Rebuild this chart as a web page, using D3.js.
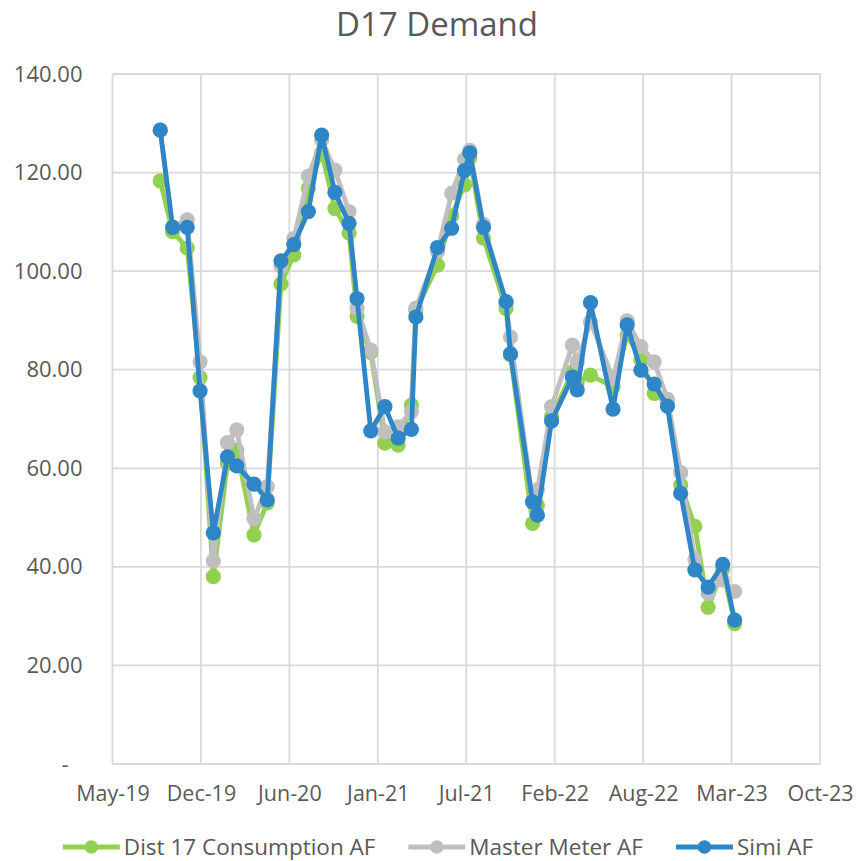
<!DOCTYPE html>
<html>
<head>
<meta charset="utf-8">
<script src="https://cdn.jsdelivr.net/npm/d3@7"></script>
<style>
  html, body { margin: 0; padding: 0; background: #ffffff; }
  svg { display: block; }
  text { font-family: "Open Sans", "Noto Sans", sans-serif; fill: #595959; }
</style>
</head>
<body>
<svg id="chart" width="862" height="861"></svg>
<script>
// ---------------- DATA ----------------
const dates = [
  "2019-08-31","2019-09-28","2019-10-31","2019-11-29","2019-12-29",
  "2020-01-30","2020-02-20","2020-03-30","2020-04-29","2020-05-30",
  "2020-06-28","2020-07-31","2020-08-30","2020-09-29","2020-10-31",
  "2020-11-18","2020-12-19","2021-01-20","2021-02-19","2021-03-21",
  "2021-03-31","2021-05-19","2021-06-20","2021-07-19","2021-07-31",
  "2021-08-31","2021-10-21","2021-10-31","2021-12-20","2021-12-31",
  "2022-02-01","2022-03-20","2022-03-31","2022-04-30","2022-06-20",
  "2022-07-22","2022-08-22","2022-09-21","2022-10-21","2022-11-20",
  "2022-12-22","2023-01-21","2023-02-23","2023-03-22"
];
const dist17 = [118.3,108.0,104.7,78.4,38.0,61.0,63.7,46.5,53.0,97.4,
  103.3,116.8,124.0,112.7,107.7,90.8,83.5,65.1,64.7,72.8,
  92.0,101.2,111.2,117.5,123.0,106.7,92.4,83.0,48.8,52.5,
  70.5,79.5,77.5,78.9,76.5,87.0,82.0,75.2,73.0,56.6,
  48.2,31.8,39.5,28.5];
const masterMeter = [128.6,109.0,110.4,81.6,41.2,65.2,67.8,49.8,56.3,101.0,
  106.6,119.3,126.6,120.5,112.1,92.5,84.0,67.4,68.4,71.5,
  92.5,104.0,115.8,122.7,124.5,109.5,93.5,86.6,53.5,55.6,
  72.5,85.0,81.6,89.7,78.2,89.9,84.7,81.6,74.0,59.1,
  41.5,34.6,37.3,35.0];
const simi = [128.6,108.9,108.9,75.7,46.9,62.3,60.5,56.8,53.6,102.1,
  105.4,112.1,127.6,116.0,109.7,94.4,67.6,72.5,66.1,67.9,
  90.7,104.8,108.7,120.4,124.0,108.9,93.8,83.2,53.2,50.5,
  69.6,78.5,75.9,93.6,72.0,89.1,79.9,77.1,72.6,54.9,
  39.4,35.9,40.5,29.2];
const seriesNames = ["Dist 17 Consumption AF","Master Meter AF","Simi AF"];
const seriesColors = ["#92D050","#BFBFBF","#2E86C6"];
const xTickDates = ["2019-05-15","2019-12-01","2020-06-18","2021-01-04","2021-07-23",
  "2022-02-08","2022-08-27","2023-03-15","2023-10-01"];
const yTicks = [0,20,40,60,80,100,120,140];
const title = "D17 Demand";

// ---------------- LAYOUT ----------------
const svg = d3.select("#chart");
const W = 862, H = 861;
const margin = {left: 112.5, right: 42, top: 74, bottom: 97};
const parse = d3.utcParse("%Y-%m-%d");
const xDomain = [parse(xTickDates[0]), parse(xTickDates[xTickDates.length-1])];

const x = d3.scaleUtc().domain(xDomain).range([margin.left, W - margin.right]);
const y = d3.scaleLinear().domain([0,140]).range([H - margin.bottom, margin.top]);

const gridColor = "#D9D9D9";

// horizontal gridlines
svg.append("g")
  .selectAll("line").data(yTicks).join("line")
  .attr("x1", x.range()[0]).attr("x2", x.range()[1])
  .attr("y1", d => y(d)).attr("y2", d => y(d))
  .attr("stroke", gridColor).attr("stroke-width", 1.8);

// vertical gridlines
svg.append("g")
  .selectAll("line").data(xTickDates.map(parse)).join("line")
  .attr("x1", d => x(d)).attr("x2", d => x(d))
  .attr("y1", y.range()[0]).attr("y2", y.range()[1])
  .attr("stroke", gridColor).attr("stroke-width", 1.8);

// y axis labels
const yAxis = d3.axisLeft(y).tickValues(yTicks).tickSize(0).tickPadding(0)
  .tickFormat(d => d === 0 ? "-" : d3.format(".2f")(d));
const gy = svg.append("g").attr("transform", `translate(${margin.left - 30},0)`).call(yAxis);
gy.select(".domain").remove();
gy.selectAll("text").attr("font-size", 22).attr("fill", "#595959")
  .attr("font-family", '"Open Sans", sans-serif')
  .attr("dx", d => d === 0 ? -14 : 0);

// x axis labels
const xAxis = d3.axisBottom(x).tickValues(xTickDates.map(parse)).tickSize(0).tickPadding(0)
  .tickFormat(d3.utcFormat("%b-%y"));
const gx = svg.append("g").attr("transform", `translate(0,${y(0) + 22})`).call(xAxis);
gx.select(".domain").remove();
gx.selectAll("text").attr("font-size", 21.5).attr("fill", "#595959")
  .attr("font-family", '"Open Sans", sans-serif')
  .attr("dy", "0.71em");

// series
const allSeries = [dist17, masterMeter, simi];
const line = d3.line().x(d => x(d.date)).y(d => y(d.value));
allSeries.forEach((vals, i) => {
  const pts = vals.map((v, j) => ({date: parse(dates[j]), value: v}));
  const g = svg.append("g");
  g.append("path").datum(pts)
    .attr("d", line)
    .attr("fill", "none")
    .attr("stroke", seriesColors[i])
    .attr("stroke-width", 4.8)
    .attr("stroke-linejoin", "round")
    .attr("stroke-linecap", "round");
  g.selectAll("circle").data(pts).join("circle")
    .attr("cx", d => x(d.date)).attr("cy", d => y(d.value))
    .attr("r", 7.6)
    .attr("fill", seriesColors[i]);
});

// title
svg.append("text")
  .attr("x", 437).attr("y", 36)
  .attr("text-anchor", "middle")
  .attr("font-size", 33)
  .attr("fill", "#595959")
  .text(title);

// legend
const legendY = 847;
const lineLen = 57, gapText = 4, gapItem = 33;
const lg = svg.append("g");
const items = seriesNames.map((name, i) => {
  const g = lg.append("g");
  g.append("line").attr("x1", 0).attr("x2", lineLen).attr("y1", 0).attr("y2", 0)
    .attr("stroke", seriesColors[i]).attr("stroke-width", 4.8);
  g.append("circle").attr("cx", lineLen/2).attr("cy", 0).attr("r", 6.8).attr("fill", seriesColors[i]);
  const t = g.append("text").attr("x", lineLen + gapText).attr("y", 0).attr("dy", "0.35em")
    .attr("font-size", 22.5).text(name);
  return {g, w: lineLen + gapText + t.node().getComputedTextLength()};
});
const total = d3.sum(items, d => d.w) + gapItem * (items.length - 1);
let cx = 438 - total / 2;
items.forEach(it => {
  it.g.attr("transform", `translate(${cx},${legendY})`);
  cx += it.w + gapItem;
});
</script>
</body>
</html>
